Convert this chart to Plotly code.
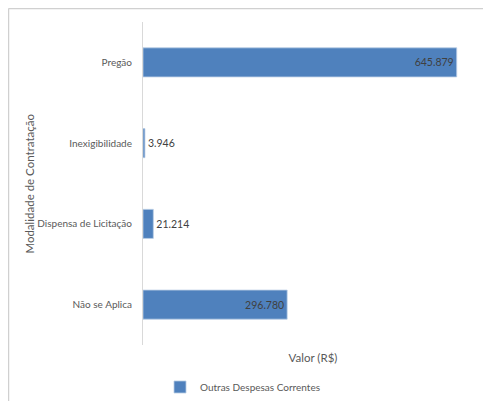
import plotly.graph_objects as go

categories = ["Não se Aplica", "Dispensa de Licitação", "Inexigibilidade", "Pregão"]
values = [296780, 21214, 3946, 645879]
labels = ["296.780", "21.214", "3.946", "645.879"]
series_name = "Outras Despesas Correntes"
x_title = "Valor (R$)"
y_title = "Modalidade de Contratação"

text_pos = ["inside" if v > 100000 else "outside" for v in values]

fig = go.Figure(go.Bar(
    y=categories, x=values, orientation="h", name=series_name,
    marker=dict(color="#4f81bd", line=dict(color="#b9cde5", width=0.8)),
    text=labels, textposition=text_pos, insidetextanchor="end",
    textfont=dict(family="Lato", size=10.5, color="#404040"),
    outsidetextfont=dict(family="Lato", size=10.5, color="#404040"),
    insidetextfont=dict(family="Lato", size=10.5, color="#404040"),
    cliponaxis=False, showlegend=True,
))

fig.update_layout(
    width=483, height=393,
    margin=dict(l=135, r=8, t=14, b=56, autoexpand=False),
    paper_bgcolor="white", plot_bgcolor="white",
    font=dict(family="Lato", size=11, color="#595959"),
    bargap=0.64,
    showlegend=True,
    legend=dict(orientation="h", x=0.05, xanchor="left", y=-0.13, yanchor="middle",
                font=dict(family="Lato", size=10, color="#595959"),
                itemwidth=30, bgcolor="rgba(0,0,0,0)"),
    xaxis=dict(range=[0, 700000], showgrid=False, showticklabels=False, zeroline=False,
               showline=False, ticks="", automargin=False,
               title=dict(text=x_title, standoff=8,
                          font=dict(family="Lato", size=11.5, color="#595959"))),
    yaxis=dict(showgrid=False, showline=True, linecolor="#d9d9d9", linewidth=1,
               ticks="", ticklabelstandoff=8, automargin=False,
               tickfont=dict(family="Lato", size=10, color="#595959")),
    annotations=[
        dict(text=y_title, xref="paper", yref="paper", x=-0.335, y=0.5,
             textangle=-90, showarrow=False, xanchor="center", yanchor="middle",
             font=dict(family="Lato", size=11.5, color="#595959")),
    ],
    shapes=[
        dict(type="line", xref="paper", yref="paper", x0=-0.3956, x1=-0.3956, y0=-0.3, y1=1.0418,
             line=dict(color="#d0d0d0", width=1.5)),
        dict(type="line", xref="paper", yref="paper", x0=-0.3956, x1=1.1, y0=1.0418, y1=1.0418,
             line=dict(color="#d0d0d0", width=1.5)),
    ],
)

fig.write_html("out.html")
